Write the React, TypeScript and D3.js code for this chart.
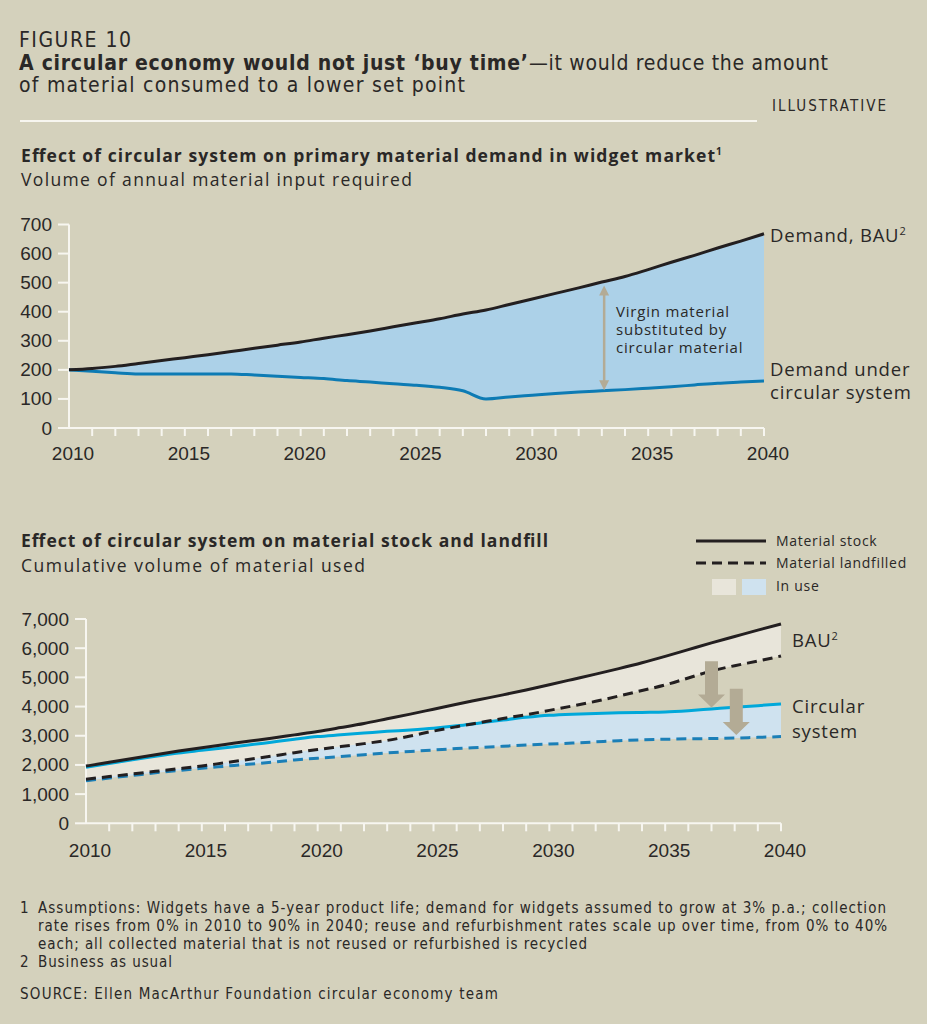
import React from "react";
import * as d3 from "d3";

// ---- data -------------------------------------------------------------
const years = d3.range(2010, 2041);

// Annual material input (top chart)
const demandBAU = [200, 205, 212, 222, 232, 242, 252, 263, 274, 285, 296, 309, 321, 334, 348, 362, 376, 392, 406, 425, 444, 463, 482, 502, 521, 545, 570, 594, 619, 643, 668];
const demandCircular = [200, 195, 190, 186, 186, 186, 186, 186, 182, 178, 174, 170, 163, 158, 152, 147, 140, 128, 100, 107, 113, 119, 124, 128, 132, 137, 142, 148, 154, 158, 162];

// Cumulative material (bottom chart)
const stockBAU = [1960, 2090, 2220, 2350, 2475, 2590, 2700, 2810, 2915, 3030, 3145, 3280, 3420, 3580, 3740, 3910, 4080, 4240, 4400, 4570, 4750, 4930, 5110, 5300, 5500, 5720, 5950, 6180, 6400, 6620, 6830];
const landfillBAU = [1510, 1600, 1690, 1780, 1870, 1965, 2075, 2185, 2300, 2420, 2530, 2630, 2730, 2840, 2990, 3160, 3310, 3450, 3590, 3720, 3870, 4020, 4180, 4360, 4550, 4740, 4980, 5220, 5400, 5560, 5730];
const stockCircular = [1920, 2050, 2180, 2300, 2410, 2500, 2590, 2680, 2780, 2880, 2970, 3030, 3090, 3150, 3200, 3260, 3340, 3440, 3540, 3630, 3700, 3740, 3765, 3785, 3800, 3815, 3860, 3920, 3980, 4030, 4090];
const landfillCircular = [1460, 1550, 1640, 1730, 1810, 1885, 1955, 2025, 2090, 2170, 2230, 2290, 2350, 2410, 2460, 2510, 2560, 2600, 2640, 2680, 2715, 2750, 2790, 2830, 2860, 2880, 2895, 2905, 2920, 2945, 2970];

const topTicksY = [0, 100, 200, 300, 400, 500, 600, 700];
const bottomTicksY = [0, 1000, 2000, 3000, 4000, 5000, 6000, 7000];
const labelYears = [2010, 2015, 2020, 2025, 2030, 2035, 2040];

const footnotes = [
  "Assumptions: Widgets have a 5-year product life; demand for widgets assumed to grow at 3% p.a.; collection",
  "rate rises from 0% in 2010 to 90% in 2040; reuse and refurbishment rates scale up over time, from 0% to 40%",
  "each; all collected material that is not reused or refurbished is recycled",
];
const footnoteWidths = [848, 849, 549];

// ---- styling ----------------------------------------------------------
const BG = "#d4d1bc";
const INK = "#2a2827";
const AXIS = "#f7f6f0";
const ARROW = "#b3ab95";
const NARROW = "'Liberation Sans Narrow', 'Arial Narrow', 'DejaVu Sans Condensed', sans-serif";
const GEO = "'Open Sans', 'Noto Sans', sans-serif";
const NUM = "'Liberation Sans', Arial, sans-serif";

type Rows = { year: number; a: number; b: number }[];
const zip = (a: number[], b: number[]): Rows => years.map((year, i) => ({ year, a: a[i], b: b[i] }));

function Axes({ x, y, ticksY, fmt, labelBaseline }: { x: d3.ScaleLinear<number, number>; y: d3.ScaleLinear<number, number>; ticksY: number[]; fmt: (v: number) => string; labelBaseline: number }) {
  const [x0, x1] = x.range();
  const [y0, y1] = y.range();
  return (
    <g>
      <line x1={x0} x2={x0} y1={y1} y2={y0} stroke={AXIS} strokeWidth={2} />
      <line x1={x0} x2={x1} y1={y0} y2={y0} stroke={AXIS} strokeWidth={2} />
      {ticksY.map((t) => (
        <g key={t}>
          <line x1={x0 - 11} x2={x0} y1={y(t)} y2={y(t)} stroke={AXIS} strokeWidth={2} />
          <text x={x0 - 17} y={y(t) + 6.5} textAnchor="end" fontFamily={NUM} fontSize={19} fill={INK}>{fmt(t)}</text>
        </g>
      ))}
      {years.slice(1).map((yr) => (
        <line key={yr} x1={x(yr)} x2={x(yr)} y1={y0} y2={y0 + 8} stroke={AXIS} strokeWidth={2} />
      ))}
      {labelYears.map((yr) => (
        <text key={yr} x={x(yr) + 4} y={labelBaseline} textAnchor="middle" fontFamily={NUM} fontSize={19} fill={INK}>{yr}</text>
      ))}
    </g>
  );
}

function DownArrow({ cx, top, tip }: { cx: number; top: number; tip: number }) {
  const headH = 13;
  const sw = 6.5;
  const hw = 13.5;
  const p = `M${cx - sw},${top} L${cx + sw},${top} L${cx + sw},${tip - headH} L${cx + hw},${tip - headH} L${cx},${tip} L${cx - hw},${tip - headH} L${cx - sw},${tip - headH} Z`;
  return <path d={p} fill={ARROW} />;
}

export default function App() {
  // top chart scales
  const xT = d3.scaleLinear().domain([2010, 2040]).range([69, 764]);
  const yT = d3.scaleLinear().domain([0, 700]).range([428, 224.5]);
  // bottom chart scales
  const xB = d3.scaleLinear().domain([2010, 2040]).range([86, 781]);
  const yB = d3.scaleLinear().domain([0, 7000]).range([823.3, 619]);

  const topRows = zip(demandBAU, demandCircular);
  const bauRows = zip(stockBAU, landfillBAU);
  const circRows = zip(stockCircular, landfillCircular);

  const areaT = d3.area<Rows[number]>().x((d) => xT(d.year)).y0((d) => yT(d.b)).y1((d) => yT(d.a)).curve(d3.curveMonotoneX);
  const lineT = (vals: number[]) => d3.line<number>().x((_, i) => xT(years[i])).y((v) => yT(v)).curve(d3.curveMonotoneX)(vals) || "";

  const areaB = d3.area<Rows[number]>().x((d) => xB(d.year)).y0((d) => yB(d.b)).y1((d) => yB(d.a)).curve(d3.curveMonotoneX);
  const lineB = (vals: number[]) => d3.line<number>().x((_, i) => xB(years[i])).y((v) => yB(v)).curve(d3.curveMonotoneX)(vals) || "";

  // double arrow between the two demand curves
  const arrowYear = 2033.1;
  const arrowTop = yT(490);
  const arrowBot = yT(130);
  const ax = xT(arrowYear);

  const fmtK = d3.format(",");

  return (
    <svg width={927} height={1024} style={{ position: "absolute", left: 0, top: 0 }} xmlns="http://www.w3.org/2000/svg">
      <rect width={927} height={1024} fill={BG} />

      {/* header */}
      <g fontFamily={NARROW} fontSize={21} fill={INK}>
        <text x={19} y={47} textLength={112}>FIGURE 10</text>
        <text x={19} y={70} fontWeight="bold" textLength={509}>A circular economy would not just ‘buy time’</text>
        <text x={529} y={70} textLength={299}>—it would reduce the amount</text>
        <text x={19} y={92} textLength={446}>of material consumed to a lower set point</text>
      </g>
      <text x={772} y={111} fontFamily={NARROW} fontSize={15} fill={INK} textLength={114}>ILLUSTRATIVE</text>
      <line x1={20} x2={757} y1={121} y2={121} stroke={AXIS} strokeWidth={2} />

      {/* top chart */}
      <text x={21} y={162} fontFamily={GEO} fontWeight="bold" fontSize={17.5} fill={INK} textLength={694}>
        Effect of circular system on primary material demand in widget market
      </text>
      <text x={716} y={155} fontFamily={GEO} fontWeight="bold" fontSize={10} fill={INK}>1</text>
      <text x={21} y={186} fontFamily={GEO} fontSize={17.5} fill={INK} textLength={391}>Volume of annual material input required</text>

      <path d={areaT(topRows) || ""} fill="#acd1e8" />
      <Axes x={xT} y={yT} ticksY={topTicksY} fmt={(v) => String(v)} labelBaseline={460} />
      <path d={lineT(demandCircular)} fill="none" stroke="#0d7bb4" strokeWidth={3} />
      <path d={lineT(demandBAU)} fill="none" stroke="#231f20" strokeWidth={3} />

      <line x1={ax} x2={ax} y1={arrowTop + 8} y2={arrowBot - 8} stroke={ARROW} strokeWidth={2.5} />
      <path d={`M${ax},${arrowTop} L${ax - 5},${arrowTop + 10} L${ax + 5},${arrowTop + 10} Z`} fill={ARROW} />
      <path d={`M${ax},${arrowBot} L${ax - 5},${arrowBot - 10} L${ax + 5},${arrowBot - 10} Z`} fill={ARROW} />
      <g fontFamily={GEO} fontSize={15} fill={INK} letterSpacing={0.8}>
        <text x={616} y={317}>Virgin material</text>
        <text x={616} y={335}>substituted by</text>
        <text x={616} y={353}>circular material</text>
      </g>
      <g fontFamily={GEO} fontSize={18.5} fill={INK} letterSpacing={0.8}>
        <text x={770} y={242}>Demand, BAU<tspan fontSize={11} dy={-7} letterSpacing={0}>2</tspan></text>
        <text x={770} y={376}>Demand under</text>
        <text x={770} y={399}>circular system</text>
      </g>

      {/* bottom chart */}
      <text x={21} y={547} fontFamily={GEO} fontWeight="bold" fontSize={17.5} fill={INK} textLength={527}>Effect of circular system on material stock and landfill</text>
      <text x={21} y={572} fontFamily={GEO} fontSize={17.5} fill={INK} textLength={344}>Cumulative volume of material used</text>

      {/* legend */}
      <line x1={696} x2={766} y1={541} y2={541} stroke="#231f20" strokeWidth={3} />
      <line x1={696} x2={766} y1={563} y2={563} stroke="#231f20" strokeWidth={3} strokeDasharray="10 6" />
      <rect x={712} y={579} width={24} height={16} fill="#e8e5da" />
      <rect x={742} y={579} width={24} height={16} fill="#cfe2ef" />
      <g fontFamily={GEO} fontSize={14} fill={INK} letterSpacing={0.7}>
        <text x={776} y={545.5}>Material stock</text>
        <text x={776} y={567.5}>Material landfilled</text>
        <text x={776} y={591}>In use</text>
      </g>

      <path d={areaB(circRows) || ""} fill="#cfe2ef" />
      <path d={areaB(bauRows) || ""} fill="#e8e5da" />
      <Axes x={xB} y={yB} ticksY={bottomTicksY} fmt={fmtK} labelBaseline={857} />
      <path d={lineB(landfillCircular)} fill="none" stroke="#1b7fb7" strokeWidth={3} strokeDasharray="10 6" />
      <path d={lineB(stockCircular)} fill="none" stroke="#00a8da" strokeWidth={3} />
      <path d={lineB(landfillBAU)} fill="none" stroke="#231f20" strokeWidth={3} strokeDasharray="10 6" />
      <path d={lineB(stockBAU)} fill="none" stroke="#231f20" strokeWidth={3} />

      <DownArrow cx={xB(2037)} top={yB(5550)} tip={yB(3970)} />
      <DownArrow cx={xB(2038.07)} top={yB(4610)} tip={yB(3025)} />

      <g fontFamily={GEO} fontSize={18.5} fill={INK} letterSpacing={0.8}>
        <text x={792} y={647}>BAU<tspan fontSize={11} dy={-7} letterSpacing={0}>2</tspan></text>
        <text x={792} y={713}>Circular</text>
        <text x={792} y={738}>system</text>
      </g>

      {/* notes */}
      <g fontFamily={NARROW} fontSize={15} fill={INK}>
        <text x={20} y={913}>1</text>
        {footnotes.map((t, i) => (
          <text key={i} x={38} y={913 + i * 18} textLength={footnoteWidths[i]}>{t}</text>
        ))}
        <text x={20} y={967}>2</text>
        <text x={38} y={967} textLength={134}>Business as usual</text>
        <text x={20} y={999} textLength={478}>SOURCE: Ellen MacArthur Foundation circular economy team</text>
      </g>
    </svg>
  );
}
